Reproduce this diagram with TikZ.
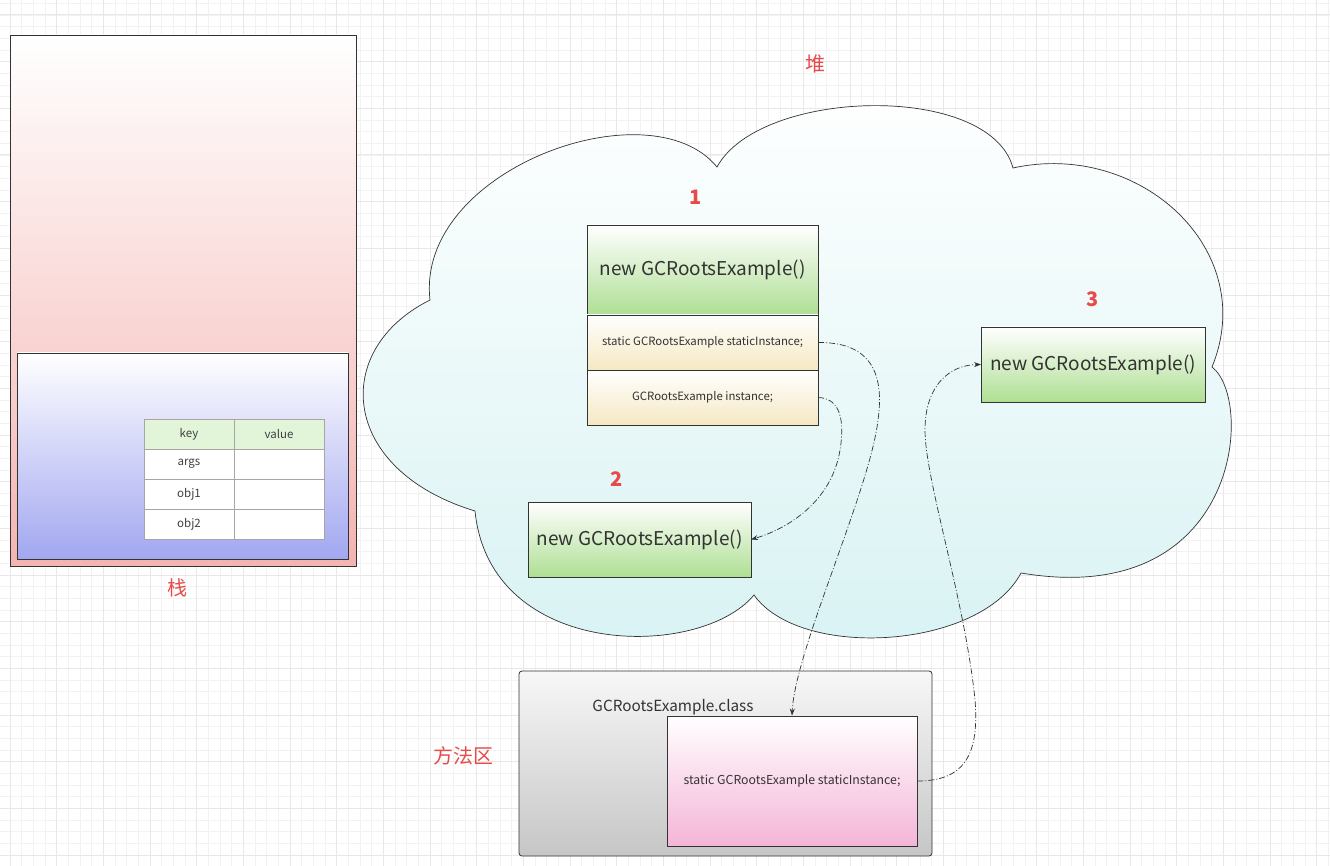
\documentclass[tikz,border=0pt]{standalone}
\usepackage{fontspec}
\setmainfont{Noto Sans CJK SC}
\usepackage{xcolor}
\usepackage{tikz}
\usetikzlibrary{arrows.meta,positioning}
\definecolor{gcred}{HTML}{E84A4A}
\definecolor{gctext}{HTML}{333333}
\definecolor{gcline}{HTML}{333333}
\definecolor{gcgreen}{HTML}{AEDF93}
\definecolor{gccream}{HTML}{F5E8C2}
\definecolor{gcpink}{HTML}{F4B4B1}
\definecolor{gcblue}{HTML}{A2A7F0}
\definecolor{gcmagenta}{HTML}{F4B5D7}
\definecolor{gcgray}{HTML}{C6C6C6}
\definecolor{gccyan}{HTML}{D8F2F3}
\definecolor{gchead}{HTML}{E3F5D9}
\definecolor{gcminor}{HTML}{F2F2F2}
\definecolor{gcmajor}{HTML}{E8E8E8}
\tikzset{
  refarrow/.style={-{Stealth[length=7pt,width=5pt]}, line width=0.7pt, draw=gcline,
    dash pattern=on 6pt off 2pt on 1pt off 2pt},
  objbox/.style={draw=gcline, line width=0.8pt, top color=white, bottom color=gcgreen,
    outer sep=0pt, text=gctext, font=\fontsize{19}{22}\selectfont},
  fieldrow/.style={draw=gcline, line width=0.8pt, top color=white, bottom color=gccream,
    outer sep=0pt, text=gctext, minimum width=231pt, minimum height=55pt,
    font=\fontsize{11.4}{13}\selectfont},
  cellbox/.style={draw=black!35, line width=0.6pt, fill=white, outer sep=0pt,
    minimum width=90pt, minimum height=30pt, text=black!75,
    font=\fontsize{11.5}{13}\selectfont},
  areatag/.style={text=gcred, font=\fontsize{20}{24}\selectfont},
  numtag/.style={text=gcred, font=\fontsize{20}{24}\selectfont\bfseries}
}

\begin{document}
\begin{tikzpicture}[x=1pt,y=-1pt]
  \useasboundingbox (0,0) rectangle (1330,866);
  \fill[white] (0,0) rectangle (1330,866);
  % background grid
  \begin{scope}[shift={(10,15)}]
    \draw[gcminor, line width=0.8pt, step=11.667pt] (-10,-15) grid (1320,851);
    \draw[gcmajor, line width=1pt, step=46.667pt] (-10,-15) grid (1320,851);
  \end{scope}

  % stack
  \node[draw=gcline, line width=0.8pt, top color=white, bottom color=gcpink,
    minimum width=346pt, minimum height=531pt] (stack) at (183,300.5) {};
  \node[draw=gcline, line width=0.8pt, top color=white, bottom color=gcblue,
    minimum width=331pt, minimum height=206pt] (frame) at (182.5,456) {};
  \node[cellbox, fill=gchead] (hkey) at (189,434) {key};
  \node[cellbox, fill=gchead, right=0pt of hkey] (hval) {value};
  \node[cellbox, below=0pt of hkey] (kargs) {args};
  \node[cellbox, right=0pt of kargs] (vargs) {};
  \node[cellbox, below=0pt of kargs] (kobja) {obj1};
  \node[cellbox, right=0pt of kobja] (vobja) {};
  \node[cellbox, below=0pt of kobja] (kobjb) {obj2};
  \node[cellbox, right=0pt of kobjb] (vobjb) {};
  \node[areatag] (stacktag) at (177,588) {栈};

  % heap
  \path[draw=gcline, line width=0.7pt, top color=white, bottom color=gccyan]
    (430,300) .. controls (415,170) and (650,85) .. (717,167)
    .. controls (760,88) and (990,82) .. (1013,168)
    .. controls (1140,140) and (1260,250) .. (1212,367)
    .. controls (1255,400) and (1240,610) .. (1021,573)
    .. controls (980,650) and (800,660) .. (754,595)
    .. controls (700,660) and (490,660) .. (475,511)
    .. controls (340,470) and (330,350) .. (430,300) -- cycle;
  \node[areatag] (heaptag) at (815,64) {堆};

  \node[objbox, minimum width=231pt, minimum height=90pt] (obj1) at (702.5,270) {new GCRootsExample()};
  \node[fieldrow, below=0pt of obj1] (srow) {static GCRootsExample staticInstance;};
  \node[fieldrow, below=0pt of srow] (irow) {GCRootsExample instance;};
  \node[numtag] (tagone) at (696,197) {1};

  \node[objbox, minimum width=223pt, minimum height=75pt] (obj2) at (639.5,539.5) {new GCRootsExample()};
  \node[numtag] (tagtwo) at (617,479) {2};

  \node[objbox, minimum width=224pt, minimum height=75pt] (obj3) at (1093,364.5) {new GCRootsExample()};
  \node[numtag] (tagthree) at (1093,299) {3};

  % method area
  \node[draw=gcline, line width=0.8pt, rounded corners=3pt, top color=white!97!black,
    bottom color=gcgray, minimum width=413pt, minimum height=185pt] (marea) at (725.5,763.5) {};
  \node[text=gctext, font=\fontsize{15.3}{18}\selectfont] (clsname) at (673,707) {GCRootsExample.class};
  \node[draw=gcline, line width=0.8pt, top color=white, bottom color=gcmagenta,
    minimum width=250pt, minimum height=130pt, text=gctext,
    font=\fontsize{12.3}{14}\selectfont] (mthd) at (792,781) {static GCRootsExample staticInstance;};
  \node[areatag] (methodtag) at (463,756) {方法区};

  \draw[refarrow] (srow.east) .. controls (868,342) and (885,370) .. (878,420)
    .. controls (870,490) and (795,650) .. (mthd.north);
  \draw[refarrow] (irow.east) .. controls (840,398) and (845,420) .. (840,450)
    .. controls (832,500) and (790,528) .. (obj2.east);
  \draw[refarrow] (mthd.east) .. controls (960,781) and (980,760) .. (975,700)
    .. controls (965,600) and (925,480) .. (925,430)
    .. controls (925,385) and (950,365) .. (obj3.west);
\end{tikzpicture}
\end{document}
